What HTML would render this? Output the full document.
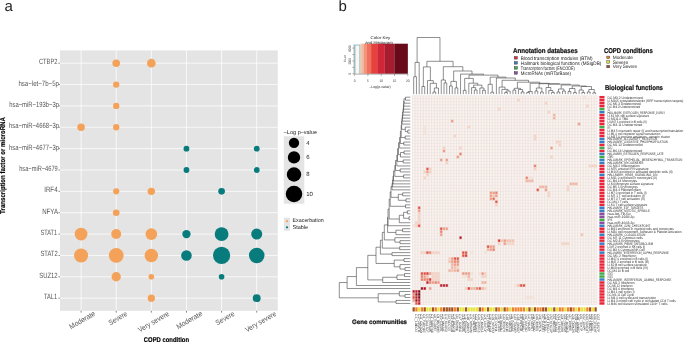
<!DOCTYPE html>
<html><head><meta charset="utf-8"><title>Figure</title>
<style>
html,body{margin:0;padding:0;background:#fff;}
body{width:685px;height:342px;overflow:hidden;}
svg{display:block;font-family:"Liberation Sans", sans-serif;will-change:transform;text-rendering:geometricPrecision;}
</style></head><body>
<svg width="685" height="342" viewBox="0 0 685 342">
<rect width="685" height="342" fill="#fff"/>
<rect x="60.0" y="50.4" width="217.80" height="260.40" fill="#E4E4E4"/>
<line x1="81.08" y1="50.4" x2="81.08" y2="310.8" stroke="#fff" stroke-width="0.75"/>
<line x1="116.21" y1="50.4" x2="116.21" y2="310.8" stroke="#fff" stroke-width="0.75"/>
<line x1="151.34" y1="50.4" x2="151.34" y2="310.8" stroke="#fff" stroke-width="0.75"/>
<line x1="186.46" y1="50.4" x2="186.46" y2="310.8" stroke="#fff" stroke-width="0.75"/>
<line x1="221.59" y1="50.4" x2="221.59" y2="310.8" stroke="#fff" stroke-width="0.75"/>
<line x1="256.72" y1="50.4" x2="256.72" y2="310.8" stroke="#fff" stroke-width="0.75"/>
<line x1="60.0" y1="63.20" x2="277.8" y2="63.20" stroke="#fff" stroke-width="0.75"/>
<line x1="60.0" y1="84.56" x2="277.8" y2="84.56" stroke="#fff" stroke-width="0.75"/>
<line x1="60.0" y1="105.92" x2="277.8" y2="105.92" stroke="#fff" stroke-width="0.75"/>
<line x1="60.0" y1="127.28" x2="277.8" y2="127.28" stroke="#fff" stroke-width="0.75"/>
<line x1="60.0" y1="148.64" x2="277.8" y2="148.64" stroke="#fff" stroke-width="0.75"/>
<line x1="60.0" y1="170.00" x2="277.8" y2="170.00" stroke="#fff" stroke-width="0.75"/>
<line x1="60.0" y1="191.36" x2="277.8" y2="191.36" stroke="#fff" stroke-width="0.75"/>
<line x1="60.0" y1="212.72" x2="277.8" y2="212.72" stroke="#fff" stroke-width="0.75"/>
<line x1="60.0" y1="234.08" x2="277.8" y2="234.08" stroke="#fff" stroke-width="0.75"/>
<line x1="60.0" y1="255.44" x2="277.8" y2="255.44" stroke="#fff" stroke-width="0.75"/>
<line x1="60.0" y1="276.80" x2="277.8" y2="276.80" stroke="#fff" stroke-width="0.75"/>
<line x1="60.0" y1="298.16" x2="277.8" y2="298.16" stroke="#fff" stroke-width="0.75"/>
<circle cx="116.21" cy="63.20" r="3.77" fill="#F4A259"/>
<circle cx="151.34" cy="63.20" r="4.33" fill="#F4A259"/>
<circle cx="116.21" cy="84.56" r="3.17" fill="#F4A259"/>
<circle cx="116.21" cy="105.92" r="3.17" fill="#F4A259"/>
<circle cx="81.08" cy="127.28" r="3.77" fill="#F4A259"/>
<circle cx="116.21" cy="127.28" r="3.17" fill="#F4A259"/>
<circle cx="116.21" cy="191.36" r="3.12" fill="#F4A259"/>
<circle cx="151.34" cy="191.36" r="3.73" fill="#F4A259"/>
<circle cx="116.21" cy="212.72" r="3.32" fill="#F4A259"/>
<circle cx="81.08" cy="234.08" r="6.38" fill="#F4A259"/>
<circle cx="116.21" cy="234.08" r="4.98" fill="#F4A259"/>
<circle cx="151.34" cy="234.08" r="5.83" fill="#F4A259"/>
<circle cx="81.08" cy="255.44" r="7.03" fill="#F4A259"/>
<circle cx="116.21" cy="255.44" r="7.38" fill="#F4A259"/>
<circle cx="151.34" cy="255.44" r="6.73" fill="#F4A259"/>
<circle cx="116.21" cy="276.80" r="4.68" fill="#F4A259"/>
<circle cx="151.34" cy="276.80" r="2.82" fill="#F4A259"/>
<circle cx="151.34" cy="298.16" r="3.62" fill="#F4A259"/>
<circle cx="186.46" cy="148.64" r="2.92" fill="#087B7D"/>
<circle cx="256.72" cy="148.64" r="2.92" fill="#087B7D"/>
<circle cx="186.46" cy="170.00" r="2.92" fill="#087B7D"/>
<circle cx="256.72" cy="170.00" r="2.92" fill="#087B7D"/>
<circle cx="221.59" cy="191.36" r="3.32" fill="#087B7D"/>
<circle cx="186.46" cy="234.08" r="4.17" fill="#087B7D"/>
<circle cx="221.59" cy="234.08" r="6.93" fill="#087B7D"/>
<circle cx="256.72" cy="234.08" r="5.53" fill="#087B7D"/>
<circle cx="186.46" cy="255.44" r="5.28" fill="#087B7D"/>
<circle cx="221.59" cy="255.44" r="8.58" fill="#087B7D"/>
<circle cx="256.72" cy="255.44" r="7.78" fill="#087B7D"/>
<circle cx="221.59" cy="276.80" r="2.82" fill="#087B7D"/>
<circle cx="256.72" cy="298.16" r="3.92" fill="#087B7D"/>
<text x="57.50" y="64.15" font-size="7.6" fill="#555" text-anchor="end" textLength="18.60" lengthAdjust="spacingAndGlyphs">CTBP2</text>
<line x1="58.4" y1="63.20" x2="60" y2="63.20" stroke="#444" stroke-width="0.6"/>
<text x="59.00" y="85.51" font-size="7.6" fill="#555" text-anchor="end" textLength="40.60" lengthAdjust="spacingAndGlyphs">hsa−let−7b−5p</text>
<line x1="58.4" y1="84.56" x2="60" y2="84.56" stroke="#444" stroke-width="0.6"/>
<text x="59.00" y="106.87" font-size="7.6" fill="#555" text-anchor="end" textLength="49.80" lengthAdjust="spacingAndGlyphs">hsa−miR−193b−3p</text>
<line x1="58.4" y1="105.92" x2="60" y2="105.92" stroke="#444" stroke-width="0.6"/>
<text x="59.00" y="128.23" font-size="7.6" fill="#555" text-anchor="end" textLength="50.00" lengthAdjust="spacingAndGlyphs">hsa−miR−4668−3p</text>
<line x1="58.4" y1="127.28" x2="60" y2="127.28" stroke="#444" stroke-width="0.6"/>
<text x="59.00" y="149.59" font-size="7.6" fill="#555" text-anchor="end" textLength="50.00" lengthAdjust="spacingAndGlyphs">hsa−miR−4677−3p</text>
<line x1="58.4" y1="148.64" x2="60" y2="148.64" stroke="#444" stroke-width="0.6"/>
<text x="57.80" y="170.95" font-size="7.6" fill="#555" text-anchor="end" textLength="38.60" lengthAdjust="spacingAndGlyphs">hsa−miR−4679</text>
<line x1="58.4" y1="170.00" x2="60" y2="170.00" stroke="#444" stroke-width="0.6"/>
<text x="57.60" y="192.31" font-size="7.6" fill="#555" text-anchor="end" textLength="13.40" lengthAdjust="spacingAndGlyphs">IRF4</text>
<line x1="58.4" y1="191.36" x2="60" y2="191.36" stroke="#444" stroke-width="0.6"/>
<text x="58.00" y="213.67" font-size="7.6" fill="#555" text-anchor="end" textLength="15.80" lengthAdjust="spacingAndGlyphs">NFYA</text>
<line x1="58.4" y1="212.72" x2="60" y2="212.72" stroke="#444" stroke-width="0.6"/>
<text x="57.00" y="235.03" font-size="7.6" fill="#555" text-anchor="end" textLength="16.50" lengthAdjust="spacingAndGlyphs">STAT1</text>
<line x1="58.4" y1="234.08" x2="60" y2="234.08" stroke="#444" stroke-width="0.6"/>
<text x="57.60" y="256.39" font-size="7.6" fill="#555" text-anchor="end" textLength="17.10" lengthAdjust="spacingAndGlyphs">STAT2</text>
<line x1="58.4" y1="255.44" x2="60" y2="255.44" stroke="#444" stroke-width="0.6"/>
<text x="57.60" y="277.75" font-size="7.6" fill="#555" text-anchor="end" textLength="18.30" lengthAdjust="spacingAndGlyphs">SUZ12</text>
<line x1="58.4" y1="276.80" x2="60" y2="276.80" stroke="#444" stroke-width="0.6"/>
<text x="57.10" y="299.11" font-size="7.6" fill="#555" text-anchor="end" textLength="13.10" lengthAdjust="spacingAndGlyphs">TAL1</text>
<line x1="58.4" y1="298.16" x2="60" y2="298.16" stroke="#444" stroke-width="0.6"/>
<line x1="81.08" y1="310.8" x2="81.08" y2="312.6" stroke="#333" stroke-width="0.6"/>
<line x1="116.21" y1="310.8" x2="116.21" y2="312.6" stroke="#333" stroke-width="0.6"/>
<line x1="151.34" y1="310.8" x2="151.34" y2="312.6" stroke="#333" stroke-width="0.6"/>
<line x1="186.46" y1="310.8" x2="186.46" y2="312.6" stroke="#333" stroke-width="0.6"/>
<line x1="221.59" y1="310.8" x2="221.59" y2="312.6" stroke="#333" stroke-width="0.6"/>
<line x1="256.72" y1="310.8" x2="256.72" y2="312.6" stroke="#333" stroke-width="0.6"/>
<text x="0" y="0" font-size="7.4" fill="#555" text-anchor="middle" textLength="28.6" lengthAdjust="spacingAndGlyphs" transform="translate(82.38 320.45) rotate(-30) translate(0 2.1)">Moderate</text>
<text x="0" y="0" font-size="7.4" fill="#555" text-anchor="middle" textLength="20.6" lengthAdjust="spacingAndGlyphs" transform="translate(118.01 318.45) rotate(-30) translate(0 2.1)">Severe</text>
<text x="0" y="0" font-size="7.4" fill="#555" text-anchor="middle" textLength="34.6" lengthAdjust="spacingAndGlyphs" transform="translate(153.74 321.95) rotate(-30) translate(0 2.1)">Very severe</text>
<text x="0" y="0" font-size="7.4" fill="#555" text-anchor="middle" textLength="28.6" lengthAdjust="spacingAndGlyphs" transform="translate(189.46 320.45) rotate(-30) translate(0 2.1)">Moderate</text>
<text x="0" y="0" font-size="7.4" fill="#555" text-anchor="middle" textLength="20.6" lengthAdjust="spacingAndGlyphs" transform="translate(225.19 318.45) rotate(-30) translate(0 2.1)">Severe</text>
<text x="0" y="0" font-size="7.4" fill="#555" text-anchor="middle" textLength="34.6" lengthAdjust="spacingAndGlyphs" transform="translate(260.82 321.95) rotate(-30) translate(0 2.1)">Very severe</text>
<text x="166.40" y="341.90" font-size="6.9" fill="#000" text-anchor="middle" font-weight="bold" textLength="45.20" lengthAdjust="spacingAndGlyphs" stroke="#000" stroke-width="0.18">COPD condition</text>
<text x="0" y="0" font-size="7.0" font-weight="bold" fill="#000" stroke="#000" stroke-width="0.18" text-anchor="middle" textLength="96.8" lengthAdjust="spacingAndGlyphs" transform="translate(5.0 165.5) rotate(-90)">Transcription factor or microRNA</text>
<text x="4.60" y="10.80" font-size="15.0" fill="#222">a</text>
<text x="338.40" y="10.80" font-size="15.0" fill="#222">b</text>
<text x="283.80" y="133.90" font-size="5.5" fill="#222" textLength="33.20" lengthAdjust="spacingAndGlyphs">–Log p–value</text>
<rect x="283.8" y="136.3" width="20.5" height="67.4" fill="#E4E4E4"/>
<circle cx="294.0" cy="142.9" r="5.15" fill="#000"/>
<text x="306.20" y="144.80" font-size="6.0" fill="#222">4</text>
<circle cx="294.0" cy="157.4" r="6.15" fill="#000"/>
<text x="306.20" y="159.30" font-size="6.0" fill="#222">6</text>
<circle cx="294.0" cy="174.5" r="7.2" fill="#000"/>
<text x="306.20" y="176.40" font-size="6.0" fill="#222">8</text>
<circle cx="294.0" cy="194.0" r="8.25" fill="#000"/>
<text x="306.20" y="195.90" font-size="6.0" fill="#222">10</text>
<rect x="283.9" y="217.7" width="6.1" height="13.1" fill="#E4E4E4"/>
<circle cx="287" cy="221.2" r="1.1" fill="#F4A259"/>
<circle cx="287" cy="227.3" r="1.1" fill="#087B7D"/>
<text x="292.50" y="222.40" font-size="5.6" fill="#222" textLength="31.20" lengthAdjust="spacingAndGlyphs">Exacerbation</text>
<text x="292.50" y="228.90" font-size="5.6" fill="#222" textLength="15.50" lengthAdjust="spacingAndGlyphs">Stable</text>
<rect x="412.3" y="95.7" width="184.72" height="209.23" fill="#FDF2EC"/>
<rect x="583.23" y="95.70" width="2.76" height="2.99" fill="#FDE4D9"/>
<rect x="517.07" y="98.69" width="2.76" height="2.99" fill="#FBD2C1"/>
<rect x="544.64" y="101.68" width="2.76" height="2.99" fill="#FBD2C1"/>
<rect x="585.99" y="104.67" width="2.76" height="2.99" fill="#FBD2C1"/>
<rect x="497.77" y="107.66" width="2.76" height="2.99" fill="#FBD2C1"/>
<rect x="547.39" y="110.65" width="2.76" height="2.99" fill="#FBD2C1"/>
<rect x="552.91" y="113.63" width="2.76" height="2.99" fill="#F6B39B"/>
<rect x="552.91" y="116.62" width="2.76" height="2.99" fill="#F6B39B"/>
<rect x="450.90" y="119.61" width="2.76" height="2.99" fill="#F39A80"/>
<rect x="577.72" y="122.60" width="2.76" height="2.99" fill="#F39A80"/>
<rect x="467.44" y="125.59" width="2.76" height="2.99" fill="#FBD2C1"/>
<rect x="423.33" y="125.59" width="2.76" height="2.99" fill="#FDE4D9"/>
<rect x="423.33" y="128.58" width="2.76" height="2.99" fill="#FDE4D9"/>
<rect x="423.33" y="131.57" width="2.76" height="2.99" fill="#FDE4D9"/>
<rect x="453.66" y="134.56" width="2.76" height="2.99" fill="#FBD2C1"/>
<rect x="533.61" y="134.56" width="2.76" height="2.99" fill="#FBD2C1"/>
<rect x="533.61" y="137.55" width="2.76" height="2.99" fill="#FBD2C1"/>
<rect x="555.66" y="140.53" width="2.76" height="2.99" fill="#FBD2C1"/>
<rect x="558.42" y="140.53" width="2.76" height="2.99" fill="#FBD2C1"/>
<rect x="558.42" y="143.52" width="2.76" height="2.99" fill="#FBD2C1"/>
<rect x="550.15" y="146.51" width="2.76" height="2.99" fill="#F39A80"/>
<rect x="550.15" y="155.48" width="2.76" height="2.99" fill="#FBD2C1"/>
<rect x="442.63" y="146.51" width="2.76" height="2.99" fill="#FBD2C1"/>
<rect x="442.63" y="149.50" width="2.76" height="2.99" fill="#F39A80"/>
<rect x="459.17" y="146.51" width="2.76" height="2.99" fill="#FBD2C1"/>
<rect x="459.17" y="152.49" width="2.76" height="2.99" fill="#EE7E66"/>
<rect x="456.41" y="155.48" width="2.76" height="2.99" fill="#F39A80"/>
<rect x="439.87" y="158.47" width="2.76" height="2.99" fill="#F39A80"/>
<rect x="445.38" y="158.47" width="2.76" height="2.99" fill="#F39A80"/>
<rect x="445.38" y="161.46" width="2.76" height="2.99" fill="#FBD2C1"/>
<rect x="426.09" y="167.44" width="2.76" height="2.99" fill="#E64F3E"/>
<rect x="428.84" y="167.44" width="2.76" height="2.99" fill="#FBD2C1"/>
<rect x="423.33" y="170.43" width="2.76" height="2.99" fill="#FBD2C1"/>
<rect x="426.09" y="170.43" width="2.76" height="2.99" fill="#F39A80"/>
<rect x="428.84" y="170.43" width="2.76" height="2.99" fill="#FBD2C1"/>
<rect x="426.09" y="173.41" width="2.76" height="2.99" fill="#FBD2C1"/>
<rect x="423.33" y="176.40" width="2.76" height="2.99" fill="#FBD2C1"/>
<rect x="533.61" y="164.45" width="2.76" height="2.99" fill="#EE7E66"/>
<rect x="533.61" y="167.44" width="2.76" height="2.99" fill="#FBD2C1"/>
<rect x="525.34" y="176.40" width="2.76" height="2.99" fill="#EE7E66"/>
<rect x="528.09" y="176.40" width="2.76" height="2.99" fill="#FDE4D9"/>
<rect x="530.85" y="176.40" width="2.76" height="2.99" fill="#FDE4D9"/>
<rect x="588.75" y="164.45" width="2.76" height="2.99" fill="#FBD2C1"/>
<rect x="591.50" y="164.45" width="2.76" height="2.99" fill="#FBD2C1"/>
<rect x="594.26" y="164.45" width="2.76" height="2.99" fill="#FBD2C1"/>
<rect x="525.34" y="179.39" width="2.76" height="2.99" fill="#F6B39B"/>
<rect x="528.09" y="179.39" width="2.76" height="2.99" fill="#F6B39B"/>
<rect x="530.85" y="179.39" width="2.76" height="2.99" fill="#F6B39B"/>
<rect x="569.45" y="182.38" width="2.76" height="2.99" fill="#F6B39B"/>
<rect x="572.21" y="182.38" width="2.76" height="2.99" fill="#F6B39B"/>
<rect x="574.96" y="182.38" width="2.76" height="2.99" fill="#F6B39B"/>
<rect x="539.12" y="185.37" width="2.76" height="2.99" fill="#F6B39B"/>
<rect x="541.88" y="185.37" width="2.76" height="2.99" fill="#F6B39B"/>
<rect x="544.64" y="185.37" width="2.76" height="2.99" fill="#F6B39B"/>
<rect x="566.69" y="185.37" width="2.76" height="2.99" fill="#FBD2C1"/>
<rect x="536.37" y="188.36" width="2.76" height="2.99" fill="#E64F3E"/>
<rect x="544.64" y="188.36" width="2.76" height="2.99" fill="#F39A80"/>
<rect x="566.69" y="188.36" width="2.76" height="2.99" fill="#FBD2C1"/>
<rect x="547.39" y="191.35" width="2.76" height="2.99" fill="#FBD2C1"/>
<rect x="547.39" y="194.34" width="2.76" height="2.99" fill="#FBD2C1"/>
<rect x="489.50" y="191.35" width="2.76" height="2.99" fill="#F39A80"/>
<rect x="492.25" y="191.35" width="2.76" height="2.99" fill="#F39A80"/>
<rect x="495.01" y="191.35" width="2.76" height="2.99" fill="#EE7E66"/>
<rect x="489.50" y="194.34" width="2.76" height="2.99" fill="#F39A80"/>
<rect x="492.25" y="194.34" width="2.76" height="2.99" fill="#F8C0A9"/>
<rect x="495.01" y="194.34" width="2.76" height="2.99" fill="#F39A80"/>
<rect x="489.50" y="197.33" width="2.76" height="2.99" fill="#F39A80"/>
<rect x="492.25" y="197.33" width="2.76" height="2.99" fill="#EB6953"/>
<rect x="495.01" y="197.33" width="2.76" height="2.99" fill="#FDE4D9"/>
<rect x="495.01" y="200.31" width="2.76" height="2.99" fill="#E64F3E"/>
<rect x="495.01" y="203.30" width="2.76" height="2.99" fill="#FBD2C1"/>
<rect x="417.81" y="206.29" width="2.76" height="2.99" fill="#E64F3E"/>
<rect x="417.81" y="209.28" width="2.76" height="2.99" fill="#F39A80"/>
<rect x="417.81" y="212.27" width="2.76" height="2.99" fill="#FBD2C1"/>
<rect x="417.81" y="215.26" width="2.76" height="2.99" fill="#FBD2C1"/>
<rect x="417.81" y="218.25" width="2.76" height="2.99" fill="#FBD2C1"/>
<rect x="415.06" y="221.24" width="2.76" height="2.99" fill="#FBD2C1"/>
<rect x="417.81" y="221.24" width="2.76" height="2.99" fill="#FBD2C1"/>
<rect x="412.30" y="224.23" width="2.76" height="2.99" fill="#FDE4D9"/>
<rect x="415.06" y="224.23" width="2.76" height="2.99" fill="#FBD2C1"/>
<rect x="417.81" y="224.23" width="2.76" height="2.99" fill="#E64F3E"/>
<rect x="439.87" y="227.22" width="2.76" height="2.99" fill="#E64F3E"/>
<rect x="442.63" y="227.22" width="2.76" height="2.99" fill="#F39A80"/>
<rect x="445.38" y="227.22" width="2.76" height="2.99" fill="#F39A80"/>
<rect x="439.87" y="230.20" width="2.76" height="2.99" fill="#EE7E66"/>
<rect x="439.87" y="233.19" width="2.76" height="2.99" fill="#F39A80"/>
<rect x="459.17" y="236.18" width="2.76" height="2.99" fill="#B3162A"/>
<rect x="486.74" y="245.15" width="2.76" height="2.99" fill="#E64F3E"/>
<rect x="489.50" y="245.15" width="2.76" height="2.99" fill="#F39A80"/>
<rect x="492.25" y="245.15" width="2.76" height="2.99" fill="#F39A80"/>
<rect x="486.74" y="248.14" width="2.76" height="2.99" fill="#F6B39B"/>
<rect x="489.50" y="248.14" width="2.76" height="2.99" fill="#F39A80"/>
<rect x="492.25" y="248.14" width="2.76" height="2.99" fill="#EE7E66"/>
<rect x="420.57" y="251.13" width="2.76" height="2.99" fill="#FBD2C1"/>
<rect x="423.33" y="251.13" width="2.76" height="2.99" fill="#FBD2C1"/>
<rect x="426.09" y="251.13" width="2.76" height="2.99" fill="#E64F3E"/>
<rect x="428.84" y="251.13" width="2.76" height="2.99" fill="#EE7E66"/>
<rect x="431.60" y="251.13" width="2.76" height="2.99" fill="#FBD2C1"/>
<rect x="434.36" y="251.13" width="2.76" height="2.99" fill="#FBD2C1"/>
<rect x="437.11" y="251.13" width="2.76" height="2.99" fill="#FBD2C1"/>
<rect x="461.93" y="251.13" width="2.76" height="2.99" fill="#E64F3E"/>
<rect x="464.68" y="251.13" width="2.76" height="2.99" fill="#E64F3E"/>
<rect x="470.20" y="251.13" width="2.76" height="2.99" fill="#FDE4D9"/>
<rect x="483.98" y="251.13" width="2.76" height="2.99" fill="#FDE4D9"/>
<rect x="461.93" y="254.12" width="2.76" height="2.99" fill="#E64F3E"/>
<rect x="464.68" y="254.12" width="2.76" height="2.99" fill="#E0352C"/>
<rect x="448.14" y="257.11" width="2.76" height="2.99" fill="#FBD2C1"/>
<rect x="450.90" y="257.11" width="2.76" height="2.99" fill="#F39A80"/>
<rect x="453.66" y="257.11" width="2.76" height="2.99" fill="#E64F3E"/>
<rect x="456.41" y="257.11" width="2.76" height="2.99" fill="#E64F3E"/>
<rect x="448.14" y="260.09" width="2.76" height="2.99" fill="#F8C0A9"/>
<rect x="450.90" y="260.09" width="2.76" height="2.99" fill="#F39A80"/>
<rect x="453.66" y="260.09" width="2.76" height="2.99" fill="#EE7E66"/>
<rect x="456.41" y="260.09" width="2.76" height="2.99" fill="#EE7E66"/>
<rect x="497.77" y="239.17" width="2.76" height="2.99" fill="#E0352C"/>
<rect x="500.52" y="239.17" width="2.76" height="2.99" fill="#F8C0A9"/>
<rect x="503.28" y="239.17" width="2.76" height="2.99" fill="#F39A80"/>
<rect x="506.04" y="239.17" width="2.76" height="2.99" fill="#F8C0A9"/>
<rect x="508.80" y="239.17" width="2.76" height="2.99" fill="#F8C0A9"/>
<rect x="511.55" y="239.17" width="2.76" height="2.99" fill="#F8C0A9"/>
<rect x="497.77" y="242.16" width="2.76" height="2.99" fill="#FBD2C1"/>
<rect x="503.28" y="242.16" width="2.76" height="2.99" fill="#F39A80"/>
<rect x="506.04" y="242.16" width="2.76" height="2.99" fill="#FBD2C1"/>
<rect x="508.80" y="242.16" width="2.76" height="2.99" fill="#FBD2C1"/>
<rect x="511.55" y="242.16" width="2.76" height="2.99" fill="#FBD2C1"/>
<rect x="561.18" y="242.16" width="2.76" height="2.99" fill="#FBD2C1"/>
<rect x="563.94" y="242.16" width="2.76" height="2.99" fill="#FBD2C1"/>
<rect x="566.69" y="242.16" width="2.76" height="2.99" fill="#FBD2C1"/>
<rect x="580.48" y="233.19" width="2.76" height="2.99" fill="#F8C0A9"/>
<rect x="450.90" y="263.08" width="2.76" height="2.99" fill="#F6B39B"/>
<rect x="453.66" y="263.08" width="2.76" height="2.99" fill="#F39A80"/>
<rect x="456.41" y="263.08" width="2.76" height="2.99" fill="#F39A80"/>
<rect x="450.90" y="266.07" width="2.76" height="2.99" fill="#F6B39B"/>
<rect x="453.66" y="266.07" width="2.76" height="2.99" fill="#F8C0A9"/>
<rect x="456.41" y="266.07" width="2.76" height="2.99" fill="#FBD2C1"/>
<rect x="448.14" y="269.06" width="2.76" height="2.99" fill="#F6B39B"/>
<rect x="450.90" y="269.06" width="2.76" height="2.99" fill="#F8C0A9"/>
<rect x="453.66" y="269.06" width="2.76" height="2.99" fill="#F6B39B"/>
<rect x="456.41" y="269.06" width="2.76" height="2.99" fill="#F39A80"/>
<rect x="420.57" y="272.05" width="2.76" height="2.99" fill="#E64F3E"/>
<rect x="423.33" y="272.05" width="2.76" height="2.99" fill="#E64F3E"/>
<rect x="426.09" y="272.05" width="2.76" height="2.99" fill="#E0352C"/>
<rect x="428.84" y="272.05" width="2.76" height="2.99" fill="#F39A80"/>
<rect x="431.60" y="272.05" width="2.76" height="2.99" fill="#FBD2C1"/>
<rect x="434.36" y="272.05" width="2.76" height="2.99" fill="#FBD2C1"/>
<rect x="437.11" y="272.05" width="2.76" height="2.99" fill="#FBD2C1"/>
<rect x="461.93" y="272.05" width="2.76" height="2.99" fill="#F39A80"/>
<rect x="464.68" y="272.05" width="2.76" height="2.99" fill="#F39A80"/>
<rect x="467.44" y="272.05" width="2.76" height="2.99" fill="#F39A80"/>
<rect x="470.20" y="272.05" width="2.76" height="2.99" fill="#FDE4D9"/>
<rect x="478.47" y="272.05" width="2.76" height="2.99" fill="#FDE4D9"/>
<rect x="481.23" y="272.05" width="2.76" height="2.99" fill="#F39A80"/>
<rect x="483.98" y="272.05" width="2.76" height="2.99" fill="#FBD2C1"/>
<rect x="420.57" y="275.04" width="2.76" height="2.99" fill="#EE7E66"/>
<rect x="423.33" y="275.04" width="2.76" height="2.99" fill="#F39A80"/>
<rect x="426.09" y="275.04" width="2.76" height="2.99" fill="#F8C0A9"/>
<rect x="431.60" y="275.04" width="2.76" height="2.99" fill="#FBD2C1"/>
<rect x="434.36" y="275.04" width="2.76" height="2.99" fill="#FBD2C1"/>
<rect x="437.11" y="275.04" width="2.76" height="2.99" fill="#FBD2C1"/>
<rect x="461.93" y="275.04" width="2.76" height="2.99" fill="#FDE4D9"/>
<rect x="464.68" y="275.04" width="2.76" height="2.99" fill="#FDE4D9"/>
<rect x="467.44" y="275.04" width="2.76" height="2.99" fill="#F6B39B"/>
<rect x="481.23" y="275.04" width="2.76" height="2.99" fill="#FBD2C1"/>
<rect x="483.98" y="275.04" width="2.76" height="2.99" fill="#FBD2C1"/>
<rect x="420.57" y="278.03" width="2.76" height="2.99" fill="#EE7E66"/>
<rect x="423.33" y="278.03" width="2.76" height="2.99" fill="#EE7E66"/>
<rect x="426.09" y="278.03" width="2.76" height="2.99" fill="#EE7E66"/>
<rect x="428.84" y="278.03" width="2.76" height="2.99" fill="#E0352C"/>
<rect x="431.60" y="278.03" width="2.76" height="2.99" fill="#FBD2C1"/>
<rect x="434.36" y="278.03" width="2.76" height="2.99" fill="#FBD2C1"/>
<rect x="437.11" y="278.03" width="2.76" height="2.99" fill="#FBD2C1"/>
<rect x="467.44" y="278.03" width="2.76" height="2.99" fill="#FBD2C1"/>
<rect x="470.20" y="278.03" width="2.76" height="2.99" fill="#FBD2C1"/>
<rect x="426.09" y="281.02" width="2.76" height="2.99" fill="#C01B2A"/>
<rect x="428.84" y="281.02" width="2.76" height="2.99" fill="#EE7E66"/>
<rect x="431.60" y="281.02" width="2.76" height="2.99" fill="#F39A80"/>
<rect x="434.36" y="281.02" width="2.76" height="2.99" fill="#EE7E66"/>
<rect x="437.11" y="281.02" width="2.76" height="2.99" fill="#F39A80"/>
<rect x="481.23" y="281.02" width="2.76" height="2.99" fill="#F6B39B"/>
<rect x="483.98" y="281.02" width="2.76" height="2.99" fill="#F6B39B"/>
<rect x="439.87" y="284.01" width="2.76" height="2.99" fill="#C01B2A"/>
<rect x="442.63" y="284.01" width="2.76" height="2.99" fill="#C01B2A"/>
<rect x="445.38" y="284.01" width="2.76" height="2.99" fill="#C01B2A"/>
<rect x="514.31" y="284.01" width="2.76" height="2.99" fill="#FDE4D9"/>
<rect x="517.07" y="284.01" width="2.76" height="2.99" fill="#F8C0A9"/>
<rect x="519.82" y="284.01" width="2.76" height="2.99" fill="#E64F3E"/>
<rect x="522.58" y="284.01" width="2.76" height="2.99" fill="#E64F3E"/>
<rect x="420.57" y="287.00" width="2.76" height="2.99" fill="#A5101F"/>
<rect x="423.33" y="287.00" width="2.76" height="2.99" fill="#A5101F"/>
<rect x="428.84" y="287.00" width="2.76" height="2.99" fill="#F39A80"/>
<rect x="464.68" y="287.00" width="2.76" height="2.99" fill="#FBD2C1"/>
<rect x="467.44" y="287.00" width="2.76" height="2.99" fill="#E0352C"/>
<rect x="470.20" y="287.00" width="2.76" height="2.99" fill="#F6B39B"/>
<rect x="472.95" y="287.00" width="2.76" height="2.99" fill="#F6B39B"/>
<rect x="475.71" y="287.00" width="2.76" height="2.99" fill="#EE7E66"/>
<rect x="478.47" y="287.00" width="2.76" height="2.99" fill="#E64F3E"/>
<rect x="481.23" y="287.00" width="2.76" height="2.99" fill="#F6B39B"/>
<rect x="483.98" y="287.00" width="2.76" height="2.99" fill="#FBD2C1"/>
<rect x="412.30" y="289.99" width="2.76" height="2.99" fill="#C01B2A"/>
<rect x="415.06" y="289.99" width="2.76" height="2.99" fill="#C01B2A"/>
<rect x="417.81" y="289.99" width="2.76" height="2.99" fill="#850A18"/>
<rect x="412.30" y="292.97" width="2.76" height="2.99" fill="#EE7E66"/>
<rect x="415.06" y="292.97" width="2.76" height="2.99" fill="#A5101F"/>
<rect x="417.81" y="292.97" width="2.76" height="2.99" fill="#6D0512"/>
<rect x="412.30" y="295.96" width="2.76" height="2.99" fill="#E64F3E"/>
<rect x="415.06" y="295.96" width="2.76" height="2.99" fill="#C01B2A"/>
<rect x="417.81" y="295.96" width="2.76" height="2.99" fill="#850A18"/>
<rect x="412.30" y="298.95" width="2.76" height="2.99" fill="#F39A80"/>
<rect x="415.06" y="298.95" width="2.76" height="2.99" fill="#A5101F"/>
<rect x="417.81" y="298.95" width="2.76" height="2.99" fill="#C01B2A"/>
<rect x="415.06" y="301.94" width="2.76" height="2.99" fill="#E64F3E"/>
<rect x="417.81" y="301.94" width="2.76" height="2.99" fill="#C01B2A"/>
<rect x="525.34" y="295.96" width="2.76" height="2.99" fill="#FDE4D9"/>
<rect x="528.09" y="295.96" width="2.76" height="2.99" fill="#FDE4D9"/>
<rect x="530.85" y="295.96" width="2.76" height="2.99" fill="#FDE4D9"/>
<path d="M412.30 95.70H597.02M412.30 98.69H597.02M412.30 101.68H597.02M412.30 104.67H597.02M412.30 107.66H597.02M412.30 110.65H597.02M412.30 113.63H597.02M412.30 116.62H597.02M412.30 119.61H597.02M412.30 122.60H597.02M412.30 125.59H597.02M412.30 128.58H597.02M412.30 131.57H597.02M412.30 134.56H597.02M412.30 137.55H597.02M412.30 140.53H597.02M412.30 143.52H597.02M412.30 146.51H597.02M412.30 149.50H597.02M412.30 152.49H597.02M412.30 155.48H597.02M412.30 158.47H597.02M412.30 161.46H597.02M412.30 164.45H597.02M412.30 167.44H597.02M412.30 170.43H597.02M412.30 173.41H597.02M412.30 176.40H597.02M412.30 179.39H597.02M412.30 182.38H597.02M412.30 185.37H597.02M412.30 188.36H597.02M412.30 191.35H597.02M412.30 194.34H597.02M412.30 197.33H597.02M412.30 200.31H597.02M412.30 203.30H597.02M412.30 206.29H597.02M412.30 209.28H597.02M412.30 212.27H597.02M412.30 215.26H597.02M412.30 218.25H597.02M412.30 221.24H597.02M412.30 224.23H597.02M412.30 227.22H597.02M412.30 230.20H597.02M412.30 233.19H597.02M412.30 236.18H597.02M412.30 239.17H597.02M412.30 242.16H597.02M412.30 245.15H597.02M412.30 248.14H597.02M412.30 251.13H597.02M412.30 254.12H597.02M412.30 257.11H597.02M412.30 260.09H597.02M412.30 263.08H597.02M412.30 266.07H597.02M412.30 269.06H597.02M412.30 272.05H597.02M412.30 275.04H597.02M412.30 278.03H597.02M412.30 281.02H597.02M412.30 284.01H597.02M412.30 287.00H597.02M412.30 289.99H597.02M412.30 292.97H597.02M412.30 295.96H597.02M412.30 298.95H597.02M412.30 301.94H597.02M412.30 304.93H597.02" stroke="#E7E3E3" stroke-width="0.5" fill="none"/>
<path d="M412.30 95.70V304.93M415.06 95.70V304.93M417.81 95.70V304.93M420.57 95.70V304.93M423.33 95.70V304.93M426.09 95.70V304.93M428.84 95.70V304.93M431.60 95.70V304.93M434.36 95.70V304.93M437.11 95.70V304.93M439.87 95.70V304.93M442.63 95.70V304.93M445.38 95.70V304.93M448.14 95.70V304.93M450.90 95.70V304.93M453.66 95.70V304.93M456.41 95.70V304.93M459.17 95.70V304.93M461.93 95.70V304.93M464.68 95.70V304.93M467.44 95.70V304.93M470.20 95.70V304.93M472.95 95.70V304.93M475.71 95.70V304.93M478.47 95.70V304.93M481.23 95.70V304.93M483.98 95.70V304.93M486.74 95.70V304.93M489.50 95.70V304.93M492.25 95.70V304.93M495.01 95.70V304.93M497.77 95.70V304.93M500.52 95.70V304.93M503.28 95.70V304.93M506.04 95.70V304.93M508.80 95.70V304.93M511.55 95.70V304.93M514.31 95.70V304.93M517.07 95.70V304.93M519.82 95.70V304.93M522.58 95.70V304.93M525.34 95.70V304.93M528.09 95.70V304.93M530.85 95.70V304.93M533.61 95.70V304.93M536.37 95.70V304.93M539.12 95.70V304.93M541.88 95.70V304.93M544.64 95.70V304.93M547.39 95.70V304.93M550.15 95.70V304.93M552.91 95.70V304.93M555.66 95.70V304.93M558.42 95.70V304.93M561.18 95.70V304.93M563.94 95.70V304.93M566.69 95.70V304.93M569.45 95.70V304.93M572.21 95.70V304.93M574.96 95.70V304.93M577.72 95.70V304.93M580.48 95.70V304.93M583.23 95.70V304.93M585.99 95.70V304.93M588.75 95.70V304.93M591.50 95.70V304.93M594.26 95.70V304.93M597.02 95.70V304.93" stroke="#E0DDDF" stroke-width="0.6" fill="none"/>
<rect x="599.4" y="95.95" width="5.10" height="2.49" fill="#E8253A"/>
<rect x="599.4" y="98.94" width="5.10" height="2.49" fill="#E8253A"/>
<rect x="599.4" y="101.93" width="5.10" height="2.49" fill="#E8253A"/>
<rect x="599.4" y="104.92" width="5.10" height="2.49" fill="#E8253A"/>
<rect x="599.4" y="107.91" width="5.10" height="2.49" fill="#43AA4B"/>
<rect x="599.4" y="110.90" width="5.10" height="2.49" fill="#3A7DC0"/>
<rect x="599.4" y="113.88" width="5.10" height="2.49" fill="#E8253A"/>
<rect x="599.4" y="116.87" width="5.10" height="2.49" fill="#E8253A"/>
<rect x="599.4" y="119.86" width="5.10" height="2.49" fill="#E8253A"/>
<rect x="599.4" y="122.85" width="5.10" height="2.49" fill="#E8253A"/>
<rect x="599.4" y="125.84" width="5.10" height="2.49" fill="#43AA4B"/>
<rect x="599.4" y="128.83" width="5.10" height="2.49" fill="#E8253A"/>
<rect x="599.4" y="131.82" width="5.10" height="2.49" fill="#E8253A"/>
<rect x="599.4" y="134.81" width="5.10" height="2.49" fill="#E8253A"/>
<rect x="599.4" y="137.80" width="5.10" height="2.49" fill="#3A7DC0"/>
<rect x="599.4" y="140.78" width="5.10" height="2.49" fill="#3A7DC0"/>
<rect x="599.4" y="143.77" width="5.10" height="2.49" fill="#E8253A"/>
<rect x="599.4" y="146.76" width="5.10" height="2.49" fill="#43AA4B"/>
<rect x="599.4" y="149.75" width="5.10" height="2.49" fill="#E8253A"/>
<rect x="599.4" y="152.74" width="5.10" height="2.49" fill="#3A7DC0"/>
<rect x="599.4" y="155.73" width="5.10" height="2.49" fill="#43AA4B"/>
<rect x="599.4" y="158.72" width="5.10" height="2.49" fill="#3A7DC0"/>
<rect x="599.4" y="161.71" width="5.10" height="2.49" fill="#3A7DC0"/>
<rect x="599.4" y="164.70" width="5.10" height="2.49" fill="#E8253A"/>
<rect x="599.4" y="167.69" width="5.10" height="2.49" fill="#E8253A"/>
<rect x="599.4" y="170.68" width="5.10" height="2.49" fill="#E8253A"/>
<rect x="599.4" y="173.66" width="5.10" height="2.49" fill="#3A7DC0"/>
<rect x="599.4" y="176.65" width="5.10" height="2.49" fill="#E8253A"/>
<rect x="599.4" y="179.64" width="5.10" height="2.49" fill="#E8253A"/>
<rect x="599.4" y="182.63" width="5.10" height="2.49" fill="#E8253A"/>
<rect x="599.4" y="185.62" width="5.10" height="2.49" fill="#E8253A"/>
<rect x="599.4" y="188.61" width="5.10" height="2.49" fill="#E8253A"/>
<rect x="599.4" y="191.60" width="5.10" height="2.49" fill="#E8253A"/>
<rect x="599.4" y="194.59" width="5.10" height="2.49" fill="#E8253A"/>
<rect x="599.4" y="197.58" width="5.10" height="2.49" fill="#E8253A"/>
<rect x="599.4" y="200.56" width="5.10" height="2.49" fill="#E8253A"/>
<rect x="599.4" y="203.55" width="5.10" height="2.49" fill="#E8253A"/>
<rect x="599.4" y="206.54" width="5.10" height="2.49" fill="#3A7DC0"/>
<rect x="599.4" y="209.53" width="5.10" height="2.49" fill="#3A7DC0"/>
<rect x="599.4" y="212.52" width="5.10" height="2.49" fill="#8E4DA0"/>
<rect x="599.4" y="215.51" width="5.10" height="2.49" fill="#8E4DA0"/>
<rect x="599.4" y="218.50" width="5.10" height="2.49" fill="#43AA4B"/>
<rect x="599.4" y="221.49" width="5.10" height="2.49" fill="#8E4DA0"/>
<rect x="599.4" y="224.48" width="5.10" height="2.49" fill="#3A7DC0"/>
<rect x="599.4" y="227.47" width="5.10" height="2.49" fill="#E8253A"/>
<rect x="599.4" y="230.45" width="5.10" height="2.49" fill="#E8253A"/>
<rect x="599.4" y="233.44" width="5.10" height="2.49" fill="#3A7DC0"/>
<rect x="599.4" y="236.43" width="5.10" height="2.49" fill="#E8253A"/>
<rect x="599.4" y="239.42" width="5.10" height="2.49" fill="#E8253A"/>
<rect x="599.4" y="242.41" width="5.10" height="2.49" fill="#3A7DC0"/>
<rect x="599.4" y="245.40" width="5.10" height="2.49" fill="#E8253A"/>
<rect x="599.4" y="248.39" width="5.10" height="2.49" fill="#E8253A"/>
<rect x="599.4" y="251.38" width="5.10" height="2.49" fill="#3A7DC0"/>
<rect x="599.4" y="254.37" width="5.10" height="2.49" fill="#E8253A"/>
<rect x="599.4" y="257.36" width="5.10" height="2.49" fill="#E8253A"/>
<rect x="599.4" y="260.34" width="5.10" height="2.49" fill="#E8253A"/>
<rect x="599.4" y="263.33" width="5.10" height="2.49" fill="#E8253A"/>
<rect x="599.4" y="266.32" width="5.10" height="2.49" fill="#E8253A"/>
<rect x="599.4" y="269.31" width="5.10" height="2.49" fill="#E8253A"/>
<rect x="599.4" y="272.30" width="5.10" height="2.49" fill="#43AA4B"/>
<rect x="599.4" y="275.29" width="5.10" height="2.49" fill="#43AA4B"/>
<rect x="599.4" y="278.28" width="5.10" height="2.49" fill="#3A7DC0"/>
<rect x="599.4" y="281.27" width="5.10" height="2.49" fill="#E8253A"/>
<rect x="599.4" y="284.26" width="5.10" height="2.49" fill="#E8253A"/>
<rect x="599.4" y="287.25" width="5.10" height="2.49" fill="#E8253A"/>
<rect x="599.4" y="290.24" width="5.10" height="2.49" fill="#E8253A"/>
<rect x="599.4" y="293.22" width="5.10" height="2.49" fill="#E8253A"/>
<rect x="599.4" y="296.21" width="5.10" height="2.49" fill="#E8253A"/>
<rect x="599.4" y="299.20" width="5.10" height="2.49" fill="#E8253A"/>
<rect x="599.4" y="302.19" width="5.10" height="2.49" fill="#E8253A"/>
<text x="607.4" y="98.64" font-size="3.5" fill="#2e2e2e" textLength="35.4" lengthAdjust="spacingAndGlyphs">DC.M3.2 Undetermined</text>
<text x="607.4" y="101.63" font-size="3.5" fill="#2e2e2e" textLength="75.9" lengthAdjust="spacingAndGlyphs">LI.M165 cytoskeleton/actin (SRF transcription targets)</text>
<text x="607.4" y="104.62" font-size="3.5" fill="#2e2e2e" textLength="33.5" lengthAdjust="spacingAndGlyphs">DC.M5.3 Undetermined</text>
<text x="607.4" y="107.61" font-size="3.5" fill="#2e2e2e" textLength="32.9" lengthAdjust="spacingAndGlyphs">DC.M4.3 Undetermined</text>
<text x="607.4" y="110.60" font-size="3.5" fill="#2e2e2e" textLength="2.9" lengthAdjust="spacingAndGlyphs">TAL1</text>
<text x="607.4" y="113.59" font-size="3.5" fill="#2e2e2e" textLength="57.6" lengthAdjust="spacingAndGlyphs">HALLMARK_ESTROGEN_RESPONSE_EARLY</text>
<text x="607.4" y="116.58" font-size="3.5" fill="#2e2e2e" textLength="41.7" lengthAdjust="spacingAndGlyphs">LI.S1 NK cell surface signature</text>
<text x="607.4" y="119.57" font-size="3.5" fill="#2e2e2e" textLength="20.8" lengthAdjust="spacingAndGlyphs">LI.M111.0 TBA</text>
<text x="607.4" y="122.56" font-size="3.5" fill="#2e2e2e" textLength="39.4" lengthAdjust="spacingAndGlyphs">LI.M47.1 enriched in B cells (II)</text>
<text x="607.4" y="125.55" font-size="3.5" fill="#2e2e2e" textLength="34.9" lengthAdjust="spacingAndGlyphs">DC.M4.11 Undetermined</text>
<text x="607.4" y="128.53" font-size="3.5" fill="#2e2e2e" textLength="2.9" lengthAdjust="spacingAndGlyphs">IRF4</text>
<text x="607.4" y="131.52" font-size="3.5" fill="#2e2e2e" textLength="75.9" lengthAdjust="spacingAndGlyphs">LI.M4.5 mismatch repair (I) and transcription/translation</text>
<text x="607.4" y="134.51" font-size="3.5" fill="#2e2e2e" textLength="52.9" lengthAdjust="spacingAndGlyphs">LI.M1.0 cell migration signal transduction</text>
<text x="607.4" y="137.50" font-size="3.5" fill="#2e2e2e" textLength="62.7" lengthAdjust="spacingAndGlyphs">LI.M37.0 immune activation - generic cluster</text>
<text x="607.4" y="140.49" font-size="3.5" fill="#2e2e2e" textLength="49.9" lengthAdjust="spacingAndGlyphs">HALLMARK_ALLOGRAFT_REJECTION</text>
<text x="607.4" y="143.48" font-size="3.5" fill="#2e2e2e" textLength="60.5" lengthAdjust="spacingAndGlyphs">HALLMARK_OXIDATIVE_PHOSPHORYLATION</text>
<text x="607.4" y="146.47" font-size="3.5" fill="#2e2e2e" textLength="35.4" lengthAdjust="spacingAndGlyphs">DC.M1.13 Undetermined</text>
<text x="607.4" y="149.46" font-size="3.5" fill="#2e2e2e" textLength="4.9" lengthAdjust="spacingAndGlyphs">SUZ12</text>
<text x="607.4" y="152.45" font-size="3.5" fill="#2e2e2e" textLength="34.9" lengthAdjust="spacingAndGlyphs">DC.M6.14 Undetermined</text>
<text x="607.4" y="155.44" font-size="3.5" fill="#2e2e2e" textLength="56.3" lengthAdjust="spacingAndGlyphs">HALLMARK_ESTROGEN_RESPONSE_LATE</text>
<text x="607.4" y="158.42" font-size="3.5" fill="#2e2e2e" textLength="5.9" lengthAdjust="spacingAndGlyphs">CTBP2</text>
<text x="607.4" y="161.41" font-size="3.5" fill="#2e2e2e" textLength="74.8" lengthAdjust="spacingAndGlyphs">HALLMARK_EPITHELIAL_MESENCHYMAL_TRANSITION</text>
<text x="607.4" y="164.40" font-size="3.5" fill="#2e2e2e" textLength="35.9" lengthAdjust="spacingAndGlyphs">HALLMARK_MYOGENESIS</text>
<text x="607.4" y="167.39" font-size="3.5" fill="#2e2e2e" textLength="32.2" lengthAdjust="spacingAndGlyphs">DC.M4.2 Inflammation</text>
<text x="607.4" y="170.38" font-size="3.5" fill="#2e2e2e" textLength="41.1" lengthAdjust="spacingAndGlyphs">LI.M75 antiviral IFN signature</text>
<text x="607.4" y="173.37" font-size="3.5" fill="#2e2e2e" textLength="65.2" lengthAdjust="spacingAndGlyphs">LI.M165 enriched in activated dendritic cells (II)</text>
<text x="607.4" y="176.36" font-size="3.5" fill="#2e2e2e" textLength="49.9" lengthAdjust="spacingAndGlyphs">HALLMARK_KRAS_SIGNALING_DN</text>
<text x="607.4" y="179.35" font-size="3.5" fill="#2e2e2e" textLength="49.6" lengthAdjust="spacingAndGlyphs">LI.M11.0 enriched in monocytes (II)</text>
<text x="607.4" y="182.34" font-size="3.5" fill="#2e2e2e" textLength="29.7" lengthAdjust="spacingAndGlyphs">DC.M4.14 Monocytes</text>
<text x="607.4" y="185.33" font-size="3.5" fill="#2e2e2e" textLength="46.2" lengthAdjust="spacingAndGlyphs">LI.S4 Monocyte surface signature</text>
<text x="607.4" y="188.31" font-size="3.5" fill="#2e2e2e" textLength="30.3" lengthAdjust="spacingAndGlyphs">DC.M5.1 Erythrocytes</text>
<text x="607.4" y="191.30" font-size="3.5" fill="#2e2e2e" textLength="33.5" lengthAdjust="spacingAndGlyphs">DC.M4.4 Platelet/Inflam</text>
<text x="607.4" y="194.29" font-size="3.5" fill="#2e2e2e" textLength="39.2" lengthAdjust="spacingAndGlyphs">LI.M7.0 enriched in T cells (I)</text>
<text x="607.4" y="197.28" font-size="3.5" fill="#2e2e2e" textLength="37.3" lengthAdjust="spacingAndGlyphs">LI.M7.1 T cell activation (I)</text>
<text x="607.4" y="200.27" font-size="3.5" fill="#2e2e2e" textLength="37.3" lengthAdjust="spacingAndGlyphs">LI.M7.3 T cell activation (II)</text>
<text x="607.4" y="203.26" font-size="3.5" fill="#2e2e2e" textLength="20.8" lengthAdjust="spacingAndGlyphs">DC.M4.1 T cells</text>
<text x="607.4" y="206.25" font-size="3.5" fill="#2e2e2e" textLength="39.9" lengthAdjust="spacingAndGlyphs">LI.S0 T cell surface signature</text>
<text x="607.4" y="209.24" font-size="3.5" fill="#2e2e2e" textLength="35.9" lengthAdjust="spacingAndGlyphs">HALLMARK_E2F_TARGETS</text>
<text x="607.4" y="212.23" font-size="3.5" fill="#2e2e2e" textLength="42.4" lengthAdjust="spacingAndGlyphs">HALLMARK_MITOTIC_SPINDLE</text>
<text x="607.4" y="215.22" font-size="3.5" fill="#2e2e2e" textLength="23.3" lengthAdjust="spacingAndGlyphs">hsa-let-7b-5p</text>
<text x="607.4" y="218.20" font-size="3.5" fill="#2e2e2e" textLength="27.1" lengthAdjust="spacingAndGlyphs">hsa-miR-193b-3p</text>
<text x="607.4" y="221.19" font-size="3.5" fill="#2e2e2e" textLength="4.9" lengthAdjust="spacingAndGlyphs">NFYA</text>
<text x="607.4" y="224.18" font-size="3.5" fill="#2e2e2e" textLength="27.1" lengthAdjust="spacingAndGlyphs">hsa-miR-4668-3p</text>
<text x="607.4" y="227.17" font-size="3.5" fill="#2e2e2e" textLength="42.9" lengthAdjust="spacingAndGlyphs">HALLMARK_G2M_CHECKPOINT</text>
<text x="607.4" y="230.16" font-size="3.5" fill="#2e2e2e" textLength="66.5" lengthAdjust="spacingAndGlyphs">LI.M81 enriched in myeloid cells and monocytes</text>
<text x="607.4" y="233.15" font-size="3.5" fill="#2e2e2e" textLength="74.1" lengthAdjust="spacingAndGlyphs">LI.M30 cell movement, Adhesion &amp; Platelet activation</text>
<text x="607.4" y="236.14" font-size="3.5" fill="#2e2e2e" textLength="37.9" lengthAdjust="spacingAndGlyphs">HALLMARK_COAGULATION</text>
<text x="607.4" y="239.13" font-size="3.5" fill="#2e2e2e" textLength="35.4" lengthAdjust="spacingAndGlyphs">DC.M7.11 Cytotoxic cells</text>
<text x="607.4" y="242.12" font-size="3.5" fill="#2e2e2e" textLength="32.2" lengthAdjust="spacingAndGlyphs">DC.M2.3 Erythrocytes</text>
<text x="607.4" y="245.11" font-size="3.5" fill="#2e2e2e" textLength="45.8" lengthAdjust="spacingAndGlyphs">HALLMARK_HEME_METABOLISM</text>
<text x="607.4" y="248.09" font-size="3.5" fill="#2e2e2e" textLength="37.9" lengthAdjust="spacingAndGlyphs">LI.M7.2 enriched in NK cells (I)</text>
<text x="607.4" y="251.08" font-size="3.5" fill="#2e2e2e" textLength="37.3" lengthAdjust="spacingAndGlyphs">DC.M3.6 Cytotoxic/NK Cell</text>
<text x="607.4" y="254.07" font-size="3.5" fill="#2e2e2e" textLength="61.4" lengthAdjust="spacingAndGlyphs">HALLMARK_INTERFERON_ALPHA_RESPONSE</text>
<text x="607.4" y="257.06" font-size="3.5" fill="#2e2e2e" textLength="28.9" lengthAdjust="spacingAndGlyphs">DC.M1.2 Interferon</text>
<text x="607.4" y="260.05" font-size="3.5" fill="#2e2e2e" textLength="40.7" lengthAdjust="spacingAndGlyphs">LI.M47.0 enriched in B cells (I)</text>
<text x="607.4" y="263.04" font-size="3.5" fill="#2e2e2e" textLength="41.7" lengthAdjust="spacingAndGlyphs">LI.M47.2 enriched in B cells (III)</text>
<text x="607.4" y="266.03" font-size="3.5" fill="#2e2e2e" textLength="39.2" lengthAdjust="spacingAndGlyphs">LI.S2 B cell surface signature</text>
<text x="607.4" y="269.02" font-size="3.5" fill="#2e2e2e" textLength="40.5" lengthAdjust="spacingAndGlyphs">LI.M69 enriched in B cells (VI)</text>
<text x="607.4" y="272.01" font-size="3.5" fill="#2e2e2e" textLength="21.9" lengthAdjust="spacingAndGlyphs">DC.M4.10 B cell</text>
<text x="607.4" y="275.00" font-size="3.5" fill="#2e2e2e" textLength="5.5" lengthAdjust="spacingAndGlyphs">STAT2</text>
<text x="607.4" y="277.98" font-size="3.5" fill="#2e2e2e" textLength="5.5" lengthAdjust="spacingAndGlyphs">STAT1</text>
<text x="607.4" y="280.97" font-size="3.5" fill="#2e2e2e" textLength="63.9" lengthAdjust="spacingAndGlyphs">HALLMARK_INTERFERON_GAMMA_RESPONSE</text>
<text x="607.4" y="283.96" font-size="3.5" fill="#2e2e2e" textLength="27.1" lengthAdjust="spacingAndGlyphs">DC.M1.2 Interferon</text>
<text x="607.4" y="286.95" font-size="3.5" fill="#2e2e2e" textLength="25.2" lengthAdjust="spacingAndGlyphs">DC.M5.12 Interferon</text>
<text x="607.4" y="289.94" font-size="3.5" fill="#2e2e2e" textLength="26.7" lengthAdjust="spacingAndGlyphs">DC.M3.4 Interferon</text>
<text x="607.4" y="292.93" font-size="3.5" fill="#2e2e2e" textLength="27.1" lengthAdjust="spacingAndGlyphs">LI.M4.1 cell cycle (I)</text>
<text x="607.4" y="295.92" font-size="3.5" fill="#2e2e2e" textLength="26.5" lengthAdjust="spacingAndGlyphs">DC.M6.11 Cell Cycle</text>
<text x="607.4" y="298.91" font-size="3.5" fill="#2e2e2e" textLength="48.7" lengthAdjust="spacingAndGlyphs">LI.M4.0 cell cycle and transcription</text>
<text x="607.4" y="301.90" font-size="3.5" fill="#2e2e2e" textLength="68.4" lengthAdjust="spacingAndGlyphs">LI.M4.3 mitotic cell cycle in stimulated CD4 T cells</text>
<text x="607.4" y="304.89" font-size="3.5" fill="#2e2e2e" textLength="60.1" lengthAdjust="spacingAndGlyphs">LI.M46 cell division stimulated CD4+ T cells</text>
<rect x="412.55" y="307.3" width="2.26" height="4.2" fill="#A4521E"/>
<rect x="415.31" y="307.3" width="2.26" height="4.2" fill="#F0822A"/>
<rect x="418.06" y="307.3" width="2.26" height="4.2" fill="#E4E43A"/>
<rect x="420.82" y="307.3" width="2.26" height="4.2" fill="#F0822A"/>
<rect x="423.58" y="307.3" width="2.26" height="4.2" fill="#A4521E"/>
<rect x="426.34" y="307.3" width="2.26" height="4.2" fill="#E4E43A"/>
<rect x="429.09" y="307.3" width="2.26" height="4.2" fill="#E4E43A"/>
<rect x="431.85" y="307.3" width="2.26" height="4.2" fill="#A4521E"/>
<rect x="434.61" y="307.3" width="2.26" height="4.2" fill="#F0822A"/>
<rect x="437.36" y="307.3" width="2.26" height="4.2" fill="#E4E43A"/>
<rect x="440.12" y="307.3" width="2.26" height="4.2" fill="#F0822A"/>
<rect x="442.88" y="307.3" width="2.26" height="4.2" fill="#A4521E"/>
<rect x="445.63" y="307.3" width="2.26" height="4.2" fill="#A4521E"/>
<rect x="448.39" y="307.3" width="2.26" height="4.2" fill="#A4521E"/>
<rect x="451.15" y="307.3" width="2.26" height="4.2" fill="#A4521E"/>
<rect x="453.91" y="307.3" width="2.26" height="4.2" fill="#F0822A"/>
<rect x="456.66" y="307.3" width="2.26" height="4.2" fill="#A4521E"/>
<rect x="459.42" y="307.3" width="2.26" height="4.2" fill="#E4E43A"/>
<rect x="462.18" y="307.3" width="2.26" height="4.2" fill="#E4E43A"/>
<rect x="464.93" y="307.3" width="2.26" height="4.2" fill="#A4521E"/>
<rect x="467.69" y="307.3" width="2.26" height="4.2" fill="#E4E43A"/>
<rect x="470.45" y="307.3" width="2.26" height="4.2" fill="#E4E43A"/>
<rect x="473.20" y="307.3" width="2.26" height="4.2" fill="#E4E43A"/>
<rect x="475.96" y="307.3" width="2.26" height="4.2" fill="#E4E43A"/>
<rect x="478.72" y="307.3" width="2.26" height="4.2" fill="#A4521E"/>
<rect x="481.48" y="307.3" width="2.26" height="4.2" fill="#F0822A"/>
<rect x="484.23" y="307.3" width="2.26" height="4.2" fill="#E4E43A"/>
<rect x="486.99" y="307.3" width="2.26" height="4.2" fill="#A4521E"/>
<rect x="489.75" y="307.3" width="2.26" height="4.2" fill="#E4E43A"/>
<rect x="492.50" y="307.3" width="2.26" height="4.2" fill="#E4E43A"/>
<rect x="495.26" y="307.3" width="2.26" height="4.2" fill="#A4521E"/>
<rect x="498.02" y="307.3" width="2.26" height="4.2" fill="#F0822A"/>
<rect x="500.77" y="307.3" width="2.26" height="4.2" fill="#E4E43A"/>
<rect x="503.53" y="307.3" width="2.26" height="4.2" fill="#A4521E"/>
<rect x="506.29" y="307.3" width="2.26" height="4.2" fill="#F0822A"/>
<rect x="509.05" y="307.3" width="2.26" height="4.2" fill="#E4E43A"/>
<rect x="511.80" y="307.3" width="2.26" height="4.2" fill="#F0822A"/>
<rect x="514.56" y="307.3" width="2.26" height="4.2" fill="#F0822A"/>
<rect x="517.32" y="307.3" width="2.26" height="4.2" fill="#F0822A"/>
<rect x="520.07" y="307.3" width="2.26" height="4.2" fill="#F0822A"/>
<rect x="522.83" y="307.3" width="2.26" height="4.2" fill="#F0822A"/>
<rect x="525.59" y="307.3" width="2.26" height="4.2" fill="#E4E43A"/>
<rect x="528.34" y="307.3" width="2.26" height="4.2" fill="#A4521E"/>
<rect x="531.10" y="307.3" width="2.26" height="4.2" fill="#E4E43A"/>
<rect x="533.86" y="307.3" width="2.26" height="4.2" fill="#A4521E"/>
<rect x="536.62" y="307.3" width="2.26" height="4.2" fill="#F0822A"/>
<rect x="539.37" y="307.3" width="2.26" height="4.2" fill="#F0822A"/>
<rect x="542.13" y="307.3" width="2.26" height="4.2" fill="#A4521E"/>
<rect x="544.89" y="307.3" width="2.26" height="4.2" fill="#A4521E"/>
<rect x="547.64" y="307.3" width="2.26" height="4.2" fill="#E4E43A"/>
<rect x="550.40" y="307.3" width="2.26" height="4.2" fill="#E4E43A"/>
<rect x="553.16" y="307.3" width="2.26" height="4.2" fill="#A4521E"/>
<rect x="555.91" y="307.3" width="2.26" height="4.2" fill="#E4E43A"/>
<rect x="558.67" y="307.3" width="2.26" height="4.2" fill="#F0822A"/>
<rect x="561.43" y="307.3" width="2.26" height="4.2" fill="#F0822A"/>
<rect x="564.19" y="307.3" width="2.26" height="4.2" fill="#E4E43A"/>
<rect x="566.94" y="307.3" width="2.26" height="4.2" fill="#F0822A"/>
<rect x="569.70" y="307.3" width="2.26" height="4.2" fill="#A4521E"/>
<rect x="572.46" y="307.3" width="2.26" height="4.2" fill="#F0822A"/>
<rect x="575.21" y="307.3" width="2.26" height="4.2" fill="#E4E43A"/>
<rect x="577.97" y="307.3" width="2.26" height="4.2" fill="#F0822A"/>
<rect x="580.73" y="307.3" width="2.26" height="4.2" fill="#E4E43A"/>
<rect x="583.48" y="307.3" width="2.26" height="4.2" fill="#E4E43A"/>
<rect x="586.24" y="307.3" width="2.26" height="4.2" fill="#F0822A"/>
<rect x="589.00" y="307.3" width="2.26" height="4.2" fill="#A4521E"/>
<rect x="591.75" y="307.3" width="2.26" height="4.2" fill="#E4E43A"/>
<rect x="594.51" y="307.3" width="2.26" height="4.2" fill="#A4521E"/>
<text x="0" y="0" font-size="3.4" fill="#333" textLength="18.2" lengthAdjust="spacingAndGlyphs" transform="translate(414.83 314.0) rotate(90)">C1_10EO2</text>
<text x="0" y="0" font-size="3.4" fill="#333" textLength="18.6" lengthAdjust="spacingAndGlyphs" transform="translate(417.59 314.0) rotate(90)">C2_2A9TK</text>
<text x="0" y="0" font-size="3.4" fill="#333" textLength="18.6" lengthAdjust="spacingAndGlyphs" transform="translate(420.34 314.0) rotate(90)">C3_G5T09</text>
<text x="0" y="0" font-size="3.4" fill="#333" textLength="18.6" lengthAdjust="spacingAndGlyphs" transform="translate(423.10 314.0) rotate(90)">C4_P3EH3E</text>
<text x="0" y="0" font-size="3.4" fill="#333" textLength="18.6" lengthAdjust="spacingAndGlyphs" transform="translate(425.86 314.0) rotate(90)">C5_6A47CF</text>
<text x="0" y="0" font-size="3.4" fill="#333" textLength="18.2" lengthAdjust="spacingAndGlyphs" transform="translate(428.61 314.0) rotate(90)">C6_M7A9K</text>
<text x="0" y="0" font-size="3.4" fill="#333" textLength="18.6" lengthAdjust="spacingAndGlyphs" transform="translate(431.37 314.0) rotate(90)">C7_58RP68</text>
<text x="0" y="0" font-size="3.4" fill="#333" textLength="17.6" lengthAdjust="spacingAndGlyphs" transform="translate(434.13 314.0) rotate(90)">C8_EODBET</text>
<text x="0" y="0" font-size="3.4" fill="#333" textLength="18.6" lengthAdjust="spacingAndGlyphs" transform="translate(436.88 314.0) rotate(90)">C9_4R73MR</text>
<text x="0" y="0" font-size="3.4" fill="#333" textLength="17.6" lengthAdjust="spacingAndGlyphs" transform="translate(439.64 314.0) rotate(90)">C10_1O01R1</text>
<text x="0" y="0" font-size="3.4" fill="#333" textLength="17.6" lengthAdjust="spacingAndGlyphs" transform="translate(442.40 314.0) rotate(90)">C11_4AK245</text>
<text x="0" y="0" font-size="3.4" fill="#333" textLength="17.6" lengthAdjust="spacingAndGlyphs" transform="translate(445.16 314.0) rotate(90)">C12_011D53</text>
<text x="0" y="0" font-size="3.4" fill="#333" textLength="17.0" lengthAdjust="spacingAndGlyphs" transform="translate(447.91 314.0) rotate(90)">C13_MDCT3T</text>
<text x="0" y="0" font-size="3.4" fill="#333" textLength="18.2" lengthAdjust="spacingAndGlyphs" transform="translate(450.67 314.0) rotate(90)">C14_8CREAM</text>
<text x="0" y="0" font-size="3.4" fill="#333" textLength="18.2" lengthAdjust="spacingAndGlyphs" transform="translate(453.43 314.0) rotate(90)">C15_DB227B</text>
<text x="0" y="0" font-size="3.4" fill="#333" textLength="17.0" lengthAdjust="spacingAndGlyphs" transform="translate(456.18 314.0) rotate(90)">C16_0KUHBM</text>
<text x="0" y="0" font-size="3.4" fill="#333" textLength="18.2" lengthAdjust="spacingAndGlyphs" transform="translate(458.94 314.0) rotate(90)">C17_D20BG</text>
<text x="0" y="0" font-size="3.4" fill="#333" textLength="18.2" lengthAdjust="spacingAndGlyphs" transform="translate(461.70 314.0) rotate(90)">C18_2KE5BN</text>
<text x="0" y="0" font-size="3.4" fill="#333" textLength="19.0" lengthAdjust="spacingAndGlyphs" transform="translate(464.45 314.0) rotate(90)">C19_EPPSUP</text>
<text x="0" y="0" font-size="3.4" fill="#333" textLength="19.0" lengthAdjust="spacingAndGlyphs" transform="translate(467.21 314.0) rotate(90)">C20_28UKR</text>
<text x="0" y="0" font-size="3.4" fill="#333" textLength="18.6" lengthAdjust="spacingAndGlyphs" transform="translate(469.97 314.0) rotate(90)">C21_MRKUM</text>
<text x="0" y="0" font-size="3.4" fill="#333" textLength="18.2" lengthAdjust="spacingAndGlyphs" transform="translate(472.73 314.0) rotate(90)">C22_A8R1NA</text>
<text x="0" y="0" font-size="3.4" fill="#333" textLength="18.2" lengthAdjust="spacingAndGlyphs" transform="translate(475.48 314.0) rotate(90)">C23_B33NS</text>
<text x="0" y="0" font-size="3.4" fill="#333" textLength="18.6" lengthAdjust="spacingAndGlyphs" transform="translate(478.24 314.0) rotate(90)">C24_25K6TA</text>
<text x="0" y="0" font-size="3.4" fill="#333" textLength="18.2" lengthAdjust="spacingAndGlyphs" transform="translate(481.00 314.0) rotate(90)">C25_4AOK3</text>
<text x="0" y="0" font-size="3.4" fill="#333" textLength="18.2" lengthAdjust="spacingAndGlyphs" transform="translate(483.75 314.0) rotate(90)">C26_12NFOF</text>
<text x="0" y="0" font-size="3.4" fill="#333" textLength="17.0" lengthAdjust="spacingAndGlyphs" transform="translate(486.51 314.0) rotate(90)">C27_2KM8PD</text>
<text x="0" y="0" font-size="3.4" fill="#333" textLength="18.2" lengthAdjust="spacingAndGlyphs" transform="translate(489.27 314.0) rotate(90)">C28_MUH38</text>
<text x="0" y="0" font-size="3.4" fill="#333" textLength="19.0" lengthAdjust="spacingAndGlyphs" transform="translate(492.02 314.0) rotate(90)">C29_NF4R3</text>
<text x="0" y="0" font-size="3.4" fill="#333" textLength="17.6" lengthAdjust="spacingAndGlyphs" transform="translate(494.78 314.0) rotate(90)">C30_D2NN4</text>
<text x="0" y="0" font-size="3.4" fill="#333" textLength="17.6" lengthAdjust="spacingAndGlyphs" transform="translate(497.54 314.0) rotate(90)">C31_8FCN63</text>
<text x="0" y="0" font-size="3.4" fill="#333" textLength="17.6" lengthAdjust="spacingAndGlyphs" transform="translate(500.30 314.0) rotate(90)">C32_KH8DBU</text>
<text x="0" y="0" font-size="3.4" fill="#333" textLength="18.2" lengthAdjust="spacingAndGlyphs" transform="translate(503.05 314.0) rotate(90)">C33_8991FK</text>
<text x="0" y="0" font-size="3.4" fill="#333" textLength="18.2" lengthAdjust="spacingAndGlyphs" transform="translate(505.81 314.0) rotate(90)">C34_82O1E</text>
<text x="0" y="0" font-size="3.4" fill="#333" textLength="18.2" lengthAdjust="spacingAndGlyphs" transform="translate(508.57 314.0) rotate(90)">C35_U8KSO3</text>
<text x="0" y="0" font-size="3.4" fill="#333" textLength="17.6" lengthAdjust="spacingAndGlyphs" transform="translate(511.32 314.0) rotate(90)">C36_R1RBRE</text>
<text x="0" y="0" font-size="3.4" fill="#333" textLength="18.6" lengthAdjust="spacingAndGlyphs" transform="translate(514.08 314.0) rotate(90)">C37_T92UR</text>
<text x="0" y="0" font-size="3.4" fill="#333" textLength="19.0" lengthAdjust="spacingAndGlyphs" transform="translate(516.84 314.0) rotate(90)">C38_B6S97</text>
<text x="0" y="0" font-size="3.4" fill="#333" textLength="17.0" lengthAdjust="spacingAndGlyphs" transform="translate(519.59 314.0) rotate(90)">C39_0NHC1M</text>
<text x="0" y="0" font-size="3.4" fill="#333" textLength="17.6" lengthAdjust="spacingAndGlyphs" transform="translate(522.35 314.0) rotate(90)">C40_BB85U</text>
<text x="0" y="0" font-size="3.4" fill="#333" textLength="17.6" lengthAdjust="spacingAndGlyphs" transform="translate(525.11 314.0) rotate(90)">C41_1BAT6D</text>
<text x="0" y="0" font-size="3.4" fill="#333" textLength="17.0" lengthAdjust="spacingAndGlyphs" transform="translate(527.87 314.0) rotate(90)">C42_H4AU0R</text>
<text x="0" y="0" font-size="3.4" fill="#333" textLength="17.0" lengthAdjust="spacingAndGlyphs" transform="translate(530.62 314.0) rotate(90)">C43_NEK0T</text>
<text x="0" y="0" font-size="3.4" fill="#333" textLength="17.6" lengthAdjust="spacingAndGlyphs" transform="translate(533.38 314.0) rotate(90)">C44_HGD09D</text>
<text x="0" y="0" font-size="3.4" fill="#333" textLength="17.0" lengthAdjust="spacingAndGlyphs" transform="translate(536.14 314.0) rotate(90)">C45_8K8E9</text>
<text x="0" y="0" font-size="3.4" fill="#333" textLength="17.6" lengthAdjust="spacingAndGlyphs" transform="translate(538.89 314.0) rotate(90)">C46_31PB7K</text>
<text x="0" y="0" font-size="3.4" fill="#333" textLength="18.2" lengthAdjust="spacingAndGlyphs" transform="translate(541.65 314.0) rotate(90)">C47_2UURBT</text>
<text x="0" y="0" font-size="3.4" fill="#333" textLength="17.0" lengthAdjust="spacingAndGlyphs" transform="translate(544.41 314.0) rotate(90)">C48_B7EBD</text>
<text x="0" y="0" font-size="3.4" fill="#333" textLength="18.6" lengthAdjust="spacingAndGlyphs" transform="translate(547.16 314.0) rotate(90)">C49_TB5CU</text>
<text x="0" y="0" font-size="3.4" fill="#333" textLength="19.0" lengthAdjust="spacingAndGlyphs" transform="translate(549.92 314.0) rotate(90)">C50_NFNCOP</text>
<text x="0" y="0" font-size="3.4" fill="#333" textLength="18.2" lengthAdjust="spacingAndGlyphs" transform="translate(552.68 314.0) rotate(90)">C51_1MOKGN</text>
<text x="0" y="0" font-size="3.4" fill="#333" textLength="18.2" lengthAdjust="spacingAndGlyphs" transform="translate(555.44 314.0) rotate(90)">C52_E0A56</text>
<text x="0" y="0" font-size="3.4" fill="#333" textLength="18.6" lengthAdjust="spacingAndGlyphs" transform="translate(558.19 314.0) rotate(90)">C53_1FBOS</text>
<text x="0" y="0" font-size="3.4" fill="#333" textLength="18.2" lengthAdjust="spacingAndGlyphs" transform="translate(560.95 314.0) rotate(90)">C54_38B2RB</text>
<text x="0" y="0" font-size="3.4" fill="#333" textLength="18.2" lengthAdjust="spacingAndGlyphs" transform="translate(563.71 314.0) rotate(90)">C55_75NR5R</text>
<text x="0" y="0" font-size="3.4" fill="#333" textLength="18.6" lengthAdjust="spacingAndGlyphs" transform="translate(566.46 314.0) rotate(90)">C56_HG0K5</text>
<text x="0" y="0" font-size="3.4" fill="#333" textLength="17.0" lengthAdjust="spacingAndGlyphs" transform="translate(569.22 314.0) rotate(90)">C57_8RHRE</text>
<text x="0" y="0" font-size="3.4" fill="#333" textLength="19.0" lengthAdjust="spacingAndGlyphs" transform="translate(571.98 314.0) rotate(90)">C58_O08KDS</text>
<text x="0" y="0" font-size="3.4" fill="#333" textLength="18.2" lengthAdjust="spacingAndGlyphs" transform="translate(574.73 314.0) rotate(90)">C59_964U8</text>
<text x="0" y="0" font-size="3.4" fill="#333" textLength="18.6" lengthAdjust="spacingAndGlyphs" transform="translate(577.49 314.0) rotate(90)">C60_6N10D</text>
<text x="0" y="0" font-size="3.4" fill="#333" textLength="17.0" lengthAdjust="spacingAndGlyphs" transform="translate(580.25 314.0) rotate(90)">C61_TEH7P</text>
<text x="0" y="0" font-size="3.4" fill="#333" textLength="17.0" lengthAdjust="spacingAndGlyphs" transform="translate(583.01 314.0) rotate(90)">C62_1D4PF</text>
<text x="0" y="0" font-size="3.4" fill="#333" textLength="19.0" lengthAdjust="spacingAndGlyphs" transform="translate(585.76 314.0) rotate(90)">C63_9DAD4T</text>
<text x="0" y="0" font-size="3.4" fill="#333" textLength="18.6" lengthAdjust="spacingAndGlyphs" transform="translate(588.52 314.0) rotate(90)">C64_1M8CB7</text>
<text x="0" y="0" font-size="3.4" fill="#333" textLength="17.0" lengthAdjust="spacingAndGlyphs" transform="translate(591.28 314.0) rotate(90)">C65_D06D0</text>
<text x="0" y="0" font-size="3.4" fill="#333" textLength="19.0" lengthAdjust="spacingAndGlyphs" transform="translate(594.03 314.0) rotate(90)">C66_1F9CHF</text>
<text x="0" y="0" font-size="3.4" fill="#333" textLength="18.2" lengthAdjust="spacingAndGlyphs" transform="translate(596.79 314.0) rotate(90)">C67_S257P</text>
<path d="M410.30 97.19H405.50V100.18H410.30M405.50 98.69H404.00V103.17H410.30M404.00 100.93H403.80V106.16H410.30M403.80 103.55H403.60V109.15H410.30M403.60 106.35H403.40V112.14H410.30M403.40 109.24H403.00V115.13H410.30M403.00 112.19H402.60V118.12H410.30M402.60 115.15H402.30V121.11H410.30M402.30 118.13H402.00V124.10H410.30M410.30 130.07H407.80V133.06H410.30M410.30 127.08H405.30V131.57H407.80M402.00 121.11H401.60V129.33H405.30M410.30 136.05H405.20V139.04H410.30M401.60 125.22H401.20V137.55H405.20M410.30 142.03H403.80V145.02H410.30M401.20 131.38H400.40V143.52H403.80M400.40 137.45H399.60V148.01H410.30M410.30 151.00H404.00V153.99H410.30M404.00 152.49H400.50V156.97H410.30M399.60 142.73H398.50V154.73H400.50M410.30 159.96H403.20V162.95H410.30M398.50 148.73H397.50V161.46H403.20M397.50 155.09H396.80V165.94H410.30M410.30 168.93H400.20V171.92H410.30M396.80 160.52H395.50V170.43H400.20M410.30 174.91H403.60V177.90H410.30M395.50 165.47H394.80V176.40H403.60M394.80 170.94H393.50V180.89H410.30M393.50 175.91H393.00V183.88H410.30M393.00 179.89H392.60V186.86H410.30M392.60 183.38H392.00V189.85H410.30M410.30 192.84H402.70V195.83H410.30M410.30 198.82H406.00V201.81H410.30M402.70 194.34H398.30V200.31H406.00M392.00 186.62H391.00V197.33H398.30M410.30 204.80H405.50V207.79H410.30M391.00 191.97H390.20V206.29H405.50M410.30 210.78H407.40V213.77H410.30M410.30 216.75H409.00V219.74H410.30M407.40 212.27H403.60V218.25H409.00M403.60 215.26H399.30V222.73H410.30M390.20 199.13H389.20V219.00H399.30M389.20 209.06H388.00V225.72H410.30M410.30 228.71H402.60V231.70H410.30M402.60 230.21H395.90V234.69H410.30M388.00 217.39H387.60V232.45H395.90M410.30 240.67H400.00V243.66H410.30M410.30 237.68H394.90V242.16H400.00M387.60 224.92H384.30V239.92H394.90M410.30 246.64H399.70V249.63H410.30M384.30 232.42H382.30V248.14H399.70M410.30 252.62H392.00V255.61H410.30M382.30 240.28H380.40V254.12H392.00M410.30 258.60H404.00V261.59H410.30M410.30 267.57H405.00V270.56H410.30M410.30 264.58H400.00V269.06H405.00M404.00 260.10H394.20V266.82H400.00M380.40 247.20H376.00V263.46H394.20M410.30 273.55H404.50V276.53H410.30M404.50 275.04H397.00V279.52H410.30M397.00 277.28H382.70V282.51H410.30M376.00 255.33H367.80V279.90H382.70M367.80 267.61H356.40V285.50H410.30M356.40 276.56H347.10V288.49H410.30M410.30 294.47H405.00V297.46H410.30M410.30 291.48H399.30V295.96H405.00M410.30 300.45H396.00V303.44H410.30M399.30 293.72H378.20V301.94H396.00M347.10 282.52H339.30V297.83H378.20" stroke="#333" stroke-width="0.55" fill="none"/>
<path d="M413.68 94.20V76.70H416.44V94.20M415.06 76.70V62.40H419.19V94.20M421.95 94.20V86.50H424.71V94.20M432.98 94.20V92.00H435.73V94.20M434.36 92.00V88.00H438.49V94.20M430.22 94.20V83.30H436.42V88.00M427.46 94.20V80.60H433.32V83.30M423.33 86.50V66.90H430.39V80.60M444.01 94.20V82.90H446.76V94.20M441.25 94.20V80.00H445.38V82.90M449.52 94.20V86.00H452.28V94.20M455.03 94.20V87.90H457.79V94.20M450.90 86.00V81.40H456.41V87.90M463.30 94.20V90.30H466.06V94.20M474.33 94.20V90.00H477.09V94.20M471.58 94.20V87.60H475.71V90.00M482.60 94.20V90.30H485.36V94.20M479.85 94.20V88.00H483.98V90.30M473.64 87.60V85.10H481.91V88.00M468.82 94.20V83.20H477.78V85.10M464.68 90.30V78.40H473.30V83.20M490.87 94.20V92.20H493.63V94.20M488.12 94.20V84.30H492.25V92.20M504.66 94.20V92.50H507.42V94.20M506.04 92.50V91.00H510.17V94.20M501.90 94.20V89.40H508.11V91.00M499.15 94.20V87.10H505.00V89.40M512.93 94.20V90.00H515.69V94.20M521.20 94.20V92.00H523.96V94.20M518.44 94.20V89.50H522.58V92.00M514.31 90.00V88.30H520.51V89.50M526.72 94.20V92.50H529.47V94.20M528.09 92.50V91.50H532.23V94.20M534.99 94.20V91.00H537.74V94.20M540.50 94.20V92.00H543.26V94.20M536.37 91.00V88.00H541.88V92.00M551.53 94.20V92.50H554.29V94.20M548.77 94.20V90.50H552.91V92.50M546.01 94.20V87.50H550.84V90.50M557.04 94.20V92.00H559.80V94.20M562.56 94.20V91.00H565.31V94.20M558.42 92.00V89.00H563.93V91.00M568.07 94.20V91.50H570.83V94.20M573.58 94.20V92.50H576.34V94.20M569.45 91.50V88.50H574.96V92.50M581.86 94.20V92.50H584.61V94.20M579.10 94.20V90.00H583.23V92.50M587.37 94.20V92.00H590.13V94.20M592.88 94.20V92.80H595.64V94.20M588.75 92.00V89.50H594.26V92.80M581.17 90.00V86.50H591.50V89.50M572.21 88.50V86.00H586.34V86.50M561.18 89.00V85.00H579.27V86.00M548.43 87.50V84.20H570.22V85.00M539.12 88.00V83.70H559.33V84.20M530.16 91.50V83.30H549.22V83.70M517.41 88.30V82.20H539.69V83.30M502.07 87.10V80.30H528.55V82.20M496.39 94.20V78.00H515.31V80.30M490.19 84.30V77.10H505.85V78.00M468.99 78.40V75.10H498.02V77.10M460.55 94.20V74.10H483.50V75.10M453.66 81.40V71.00H472.03V74.10M443.32 80.00V66.70H462.84V71.00M426.86 66.90V61.30H453.08V66.70M417.12 62.40V37.50H439.97V61.30" stroke="#333" stroke-width="0.55" fill="none"/>
<rect x="354.6" y="43.7" width="5.15" height="30.0" fill="#FFF4EF"/>
<rect x="359.7" y="43.7" width="1.55" height="30.0" fill="#F9D5C5"/>
<rect x="361.2" y="43.7" width="2.75" height="30.0" fill="#F5B7A0"/>
<rect x="363.9" y="43.7" width="3.05" height="30.0" fill="#F29479"/>
<rect x="366.9" y="43.7" width="4.25" height="30.0" fill="#EE6F5C"/>
<rect x="371.1" y="43.7" width="6.15" height="30.0" fill="#E6413A"/>
<rect x="377.2" y="43.7" width="7.65" height="30.0" fill="#D02638"/>
<rect x="384.8" y="43.7" width="9.55" height="30.0" fill="#A51D2E"/>
<rect x="394.3" y="43.7" width="13.55" height="30.0" fill="#690A19"/>
<path d="M355 73.6V45.1H359.8V73.6" stroke="#3FB3C3" stroke-width="0.6" fill="none"/>
<path d="M354.1 44.3V74.1M352.4 48.1H354.1M352.4 54.6H354.1M352.4 61H354.1M352.4 67.4H354.1M352.4 73.8H354.1M354.6 74.1H407.8M354.6 74.1V75.9M367.9 74.1V75.9M381.2 74.1V75.9M394.5 74.1V75.9M407.8 74.1V75.9" stroke="#333" stroke-width="0.4" fill="none"/>
<text x="354.6" y="81.6" font-size="3.6" fill="#333" text-anchor="middle" textLength="1.8" lengthAdjust="spacingAndGlyphs">0</text>
<text x="367.9" y="81.6" font-size="3.6" fill="#333" text-anchor="middle" textLength="1.8" lengthAdjust="spacingAndGlyphs">5</text>
<text x="381.2" y="81.6" font-size="3.6" fill="#333" text-anchor="middle" textLength="3.6" lengthAdjust="spacingAndGlyphs">10</text>
<text x="394.5" y="81.6" font-size="3.6" fill="#333" text-anchor="middle" textLength="3.6" lengthAdjust="spacingAndGlyphs">15</text>
<text x="407.8" y="81.6" font-size="3.6" fill="#333" text-anchor="middle" textLength="3.6" lengthAdjust="spacingAndGlyphs">20</text>
<text x="0" y="0" font-size="3.6" fill="#333" text-anchor="middle" textLength="6.4" lengthAdjust="spacingAndGlyphs" transform="translate(351.3 48.6) rotate(-90)">6000</text>
<text x="0" y="0" font-size="3.6" fill="#333" text-anchor="middle" textLength="6.4" lengthAdjust="spacingAndGlyphs" transform="translate(351.3 61.4) rotate(-90)">2000</text>
<text x="0" y="0" font-size="3.6" fill="#333" text-anchor="middle" textLength="1.8" lengthAdjust="spacingAndGlyphs" transform="translate(351.3 73.8) rotate(-90)">0</text>
<text x="0" y="0" font-size="3.2" fill="#333" text-anchor="middle" textLength="6.5" lengthAdjust="spacingAndGlyphs" transform="translate(345.9 58.8) rotate(-90)">Count</text>
<text x="380.0" y="87.8" font-size="3.6" fill="#333" text-anchor="middle" textLength="21.4" lengthAdjust="spacingAndGlyphs">–Log(p-value)</text>
<text x="380.4" y="38.7" font-size="4.0" fill="#222" text-anchor="middle" textLength="19.8" lengthAdjust="spacingAndGlyphs">Color Key</text>
<text x="379.0" y="44.0" font-size="4.0" fill="#222" text-anchor="middle" textLength="27.5" lengthAdjust="spacingAndGlyphs">and Histogram</text>
<text x="513.0" y="52.9" font-size="7.0" fill="#111" font-weight="bold" stroke="#111" stroke-width="0.22" textLength="64.6" lengthAdjust="spacingAndGlyphs">Annotation databases</text>
<rect x="514.3" y="56.60" width="3.0" height="2.5" fill="#E8253A" stroke="#333" stroke-width="0.45"/>
<text x="520.8" y="59.60" font-size="5.0" fill="#222" textLength="71.8" lengthAdjust="spacingAndGlyphs">Blood transcription modules (BTM)</text>
<rect x="514.3" y="61.63" width="3.0" height="2.5" fill="#3A7DC0" stroke="#333" stroke-width="0.45"/>
<text x="520.8" y="64.63" font-size="5.0" fill="#222" textLength="80.6" lengthAdjust="spacingAndGlyphs">Hallmark biological functions (MSigDB)</text>
<rect x="514.3" y="66.66" width="3.0" height="2.5" fill="#43AA4B" stroke="#333" stroke-width="0.45"/>
<text x="520.8" y="69.66" font-size="5.0" fill="#222" textLength="54.0" lengthAdjust="spacingAndGlyphs">Transcription factors (ENCODE)</text>
<rect x="514.3" y="71.69" width="3.0" height="2.5" fill="#8E4DA0" stroke="#333" stroke-width="0.45"/>
<text x="520.8" y="74.69" font-size="5.0" fill="#222" textLength="50.2" lengthAdjust="spacingAndGlyphs">MicroRNAs (miRTarBase)</text>
<text x="603.9" y="52.5" font-size="7.0" fill="#111" font-weight="bold" stroke="#111" stroke-width="0.22" textLength="48.9" lengthAdjust="spacingAndGlyphs">COPD conditions</text>
<rect x="606.8" y="56.10" width="2.9" height="2.5" fill="#F0822A" stroke="#333" stroke-width="0.45"/>
<text x="612.7" y="59.00" font-size="4.9" fill="#222" textLength="20.1" lengthAdjust="spacingAndGlyphs">Moderate</text>
<rect x="606.8" y="60.70" width="2.9" height="2.5" fill="#E4E43A" stroke="#333" stroke-width="0.45"/>
<text x="612.7" y="63.60" font-size="4.9" fill="#222" textLength="15.5" lengthAdjust="spacingAndGlyphs">Severe</text>
<rect x="606.8" y="65.30" width="2.9" height="2.5" fill="#A4521E" stroke="#333" stroke-width="0.45"/>
<text x="612.7" y="68.20" font-size="4.9" fill="#222" textLength="24.3" lengthAdjust="spacingAndGlyphs">Very Severe</text>
<text x="604.9" y="89.5" font-size="7.0" fill="#111" font-weight="bold" stroke="#111" stroke-width="0.22" textLength="58.1" lengthAdjust="spacingAndGlyphs">Biological functions</text>
<text x="352.0" y="323.6" font-size="6.4" fill="#111" font-weight="bold" stroke="#111" stroke-width="0.22" textLength="55.0" lengthAdjust="spacingAndGlyphs">Gene communities</text>
</svg>
</body></html>
